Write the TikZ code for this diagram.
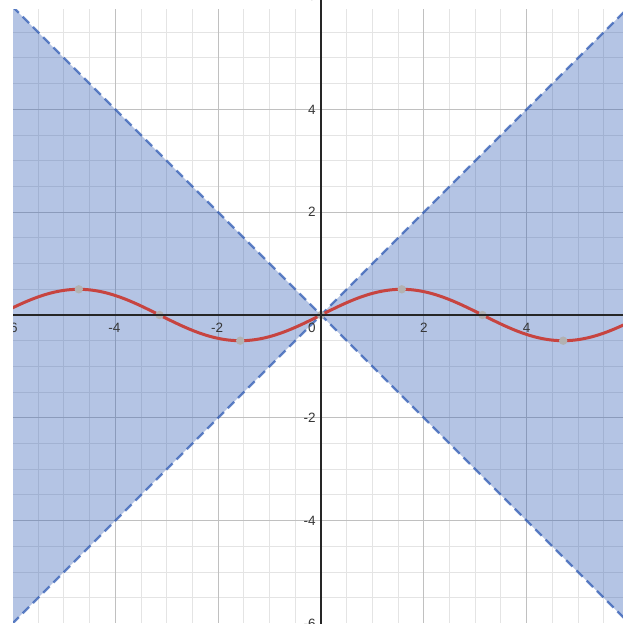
\documentclass[tikz,border=0pt]{standalone}
\usepackage{fontspec}
\setmainfont{Liberation Sans}
\definecolor{dblue}{RGB}{41,86,178}
\definecolor{dred}{RGB}{199,68,64}
\definecolor{minorgrid}{RGB}{228,228,228}
\definecolor{majorgrid}{RGB}{192,192,192}
\definecolor{lbl}{RGB}{55,55,55}
\definecolor{ptgray}{RGB}{178,178,178}
\tikzset{
  minorline/.style={draw=minorgrid, line width=1pt},
  majorline/.style={draw=majorgrid, line width=1pt},
  region/.style={fill=dblue, fill opacity=0.35},
  boundary/.style={draw=dblue, draw opacity=0.72, line width=2.4pt, dash pattern=on 9pt off 5.5pt},
  curve/.style={draw=dred, line width=3pt, line cap=round},
  axisline/.style={draw=black!85, line width=1.4pt},
  xlbl/.style={text=lbl, font=\fontsize{13.5}{13.5}\selectfont, inner sep=0pt, anchor=base},
  ylbl/.style={text=lbl, font=\fontsize{13.5}{13.5}\selectfont, inner sep=0pt, anchor=east},
  ptmark/.style={fill=ptgray}
}
\begin{document}
\begin{tikzpicture}[x=51.4pt,y=51.4pt]
\useasboundingbox (-6.2451,-6.0117) rectangle (5.8755,6.1284);
\fill[white] (-6.2451,-6.0117) rectangle (5.8755,6.1284);
\begin{scope}
  \clip (-5.992,-5.973) rectangle (5.8755,5.953);
  \draw[minorline] (-7,-7) grid[step=0.5] (7,7);
  \draw[majorline] (-8,-8) grid[step=2] (8,8);
  \fill[region] (0,0) -- (-7,7) -- (-7,-7) -- cycle;
  \fill[region] (0,0) -- (7,7) -- (7,-7) -- cycle;
  \coordinate (bl) at (-7,-7);
  \coordinate (tr) at (7,7);
  \coordinate (tl) at (-7,7);
  \coordinate (br) at (7,-7);
  \draw[boundary] (bl) -- (tr);
  \draw[boundary] (tl) -- (br);
  \draw[curve] plot[domain=-6.3:6.3, samples=240, smooth] (\x, {0.5*sin(\x r)});
  \foreach \px/\py in {-4.71239/0.5, -3.14159/0, -1.5708/-0.5, 0/0, 1.5708/0.5, 3.14159/0, 4.71239/-0.5}
    \fill[ptmark] (\px,\py) circle (4.2pt);
\end{scope}
\begin{scope}
  \clip (-5.992,-6.2) rectangle (5.8755,6.3);
  \coordinate (xl) at (-7,0);
  \coordinate (xr) at (7,0);
  \coordinate (yb) at (0,-7);
  \coordinate (yt) at (0,7);
  \draw[axisline] (xl) -- (xr);
  \draw[axisline] (yb) -- (yt);
  \node[xlbl] (xm6) at (-6.02,-0.35) {-6};
  \node[xlbl] (xm4) at (-4.02,-0.35) {-4};
  \node[xlbl] (xm2) at (-2.02,-0.35) {-2};
  \node[xlbl] (xp2) at (2,-0.35) {2};
  \node[xlbl] (xp4) at (4,-0.35) {4};
  \node[text=lbl, font=\fontsize{13.5}{13.5}\selectfont, inner sep=0pt, anchor=north east] (o) at (-0.1,-0.15) {0};
  \node[ylbl] (yp6) at (-0.1,6.2) {6};
  \node[ylbl] (yp4) at (-0.1,4) {4};
  \node[ylbl] (yp2) at (-0.1,2) {2};
  \node[ylbl] (ym2) at (-0.1,-2) {-2};
  \node[ylbl] (ym4) at (-0.1,-4) {-4};
  \node[ylbl] (ym6) at (-0.1,-6) {-6};
\end{scope}
\end{tikzpicture}
\end{document}
